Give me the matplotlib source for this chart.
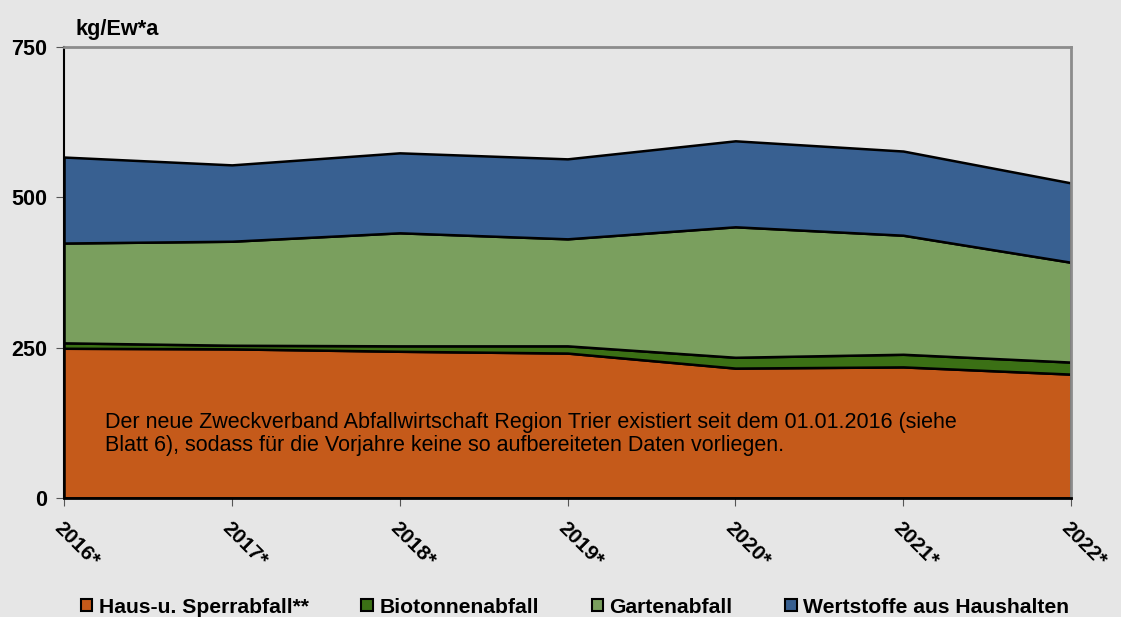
import matplotlib
matplotlib.use("Agg")
import matplotlib.pyplot as plt

# Werte in kg/Ew*a
jahre = ['2016*', '2017*', '2018*', '2019*', '2020*', '2021*', '2022*']
haus_sperr = [249, 248, 244, 241, 216, 218, 206]
bioabfall = [9, 6, 9, 12, 18, 21, 20]
garten = [166, 173, 188, 178, 217, 198, 166]
wertstoffe = [143, 127, 133, 133, 143, 140, 132]

labels = ['Haus-u. Sperrabfall**', 'Biotonnenabfall', 'Gartenabfall',
          'Wertstoffe aus Haushalten']
colors = ['#C55A1A', '#3B7015', '#7A9F5E', '#386091']

plt.rcParams['font.family'] = ['Liberation Sans', 'DejaVu Sans']

bg = '#E6E6E6'
fig = plt.figure(figsize=(11.21, 6.17), dpi=100, facecolor=bg)
ax = fig.add_axes([0.0571, 0.1929, 0.8983, 0.7309], facecolor=bg)

x = list(range(len(jahre)))
polys = ax.stackplot(x, haus_sperr, bioabfall, garten, wertstoffe,
                     colors=colors, labels=labels,
                     edgecolor='black', linewidth=1.8)

ax.set_xlim(0, len(jahre) - 1)
ax.set_ylim(0, 750)
ax.set_yticks([0, 250, 500, 750])
ax.set_yticklabels(['0', '250', '500', '750'], fontsize=15.5, fontweight='bold')
ax.set_xticks(x)
ax.set_xticklabels(jahre, fontsize=15, fontweight='bold', rotation=-45,
                   ha='left', va='top', rotation_mode='anchor')
ax.tick_params(axis='x', length=6, color='#555555', pad=9)
ax.tick_params(axis='y', length=6, color='#555555', pad=6)

for side in ['top', 'right']:
    ax.spines[side].set_color('#8C8C8C')
    ax.spines[side].set_linewidth(2)
ax.spines['left'].set_color('black')
ax.spines['left'].set_linewidth(1.5)
ax.spines['bottom'].set_color('black')
ax.spines['bottom'].set_linewidth(2)

ax.text(0.011, 1.015, 'kg/Ew*a', transform=ax.transAxes, fontsize=15.7,
        fontweight='bold', ha='left', va='bottom')

ax.text(0.041, 0.105, 'Der neue Zweckverband Abfallwirtschaft Region Trier existiert seit dem 01.01.2016 (siehe\n'
        'Blatt 6), sodass für die Vorjahre keine so aufbereiteten Daten vorliegen.',
        transform=ax.transAxes, fontsize=15.5, ha='left', va='baseline',
        linespacing=1.12)

leg = fig.legend(handles=polys, labels=labels, loc='lower center', ncol=4,
                 bbox_to_anchor=(0.513, -0.03), frameon=False,
                 prop={'size': 15.2, 'weight': 'bold'},
                 handlelength=0.55, handleheight=0.55, handletextpad=0.3,
                 columnspacing=2.5)
for h in leg.legend_handles:
    h.set_linewidth(1.5)

fig.savefig('out.png', dpi=100, facecolor=bg)
